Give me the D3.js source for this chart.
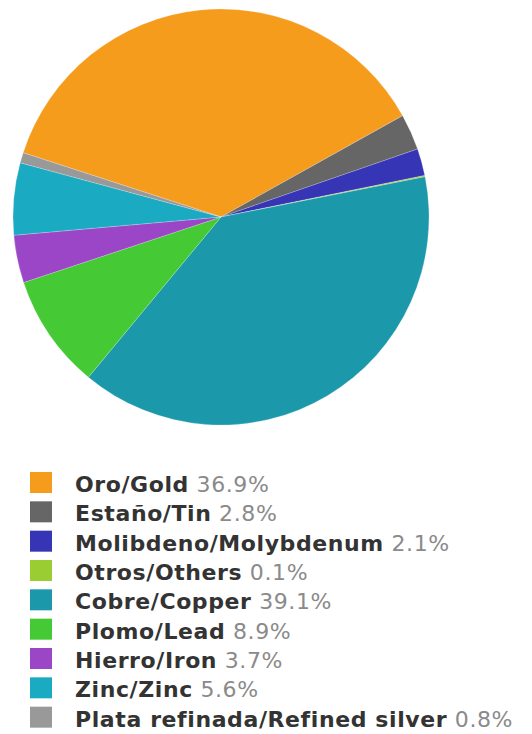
<!DOCTYPE html>
<html lang="en">
<head>
    <meta charset="UTF-8">
    <title>Mineral exports</title>
    <script src="https://d3js.org/d3.v7.min.js"></script>
    <style>
        body { margin: 0; background: #fff; }
    </style>
</head>
<body>
<script>
    // data
    names = ["Oro/Gold", "Estaño/Tin", "Molibdeno/Molybdenum", "Otros/Others", "Cobre/Copper",
             "Plomo/Lead", "Hierro/Iron", "Zinc/Zinc", "Plata refinada/Refined silver"]
    shares = [36.9, 2.8, 2.1, 0.1, 39.1, 8.9, 3.7, 5.6, 0.8]
    colors = ["#f59c1d", "#666666", "#3535b5", "#9acd32", "#1b98aa",
              "#45c934", "#9a46c6", "#1aaac2", "#999999"]

    data = names.map((n, i) => ({name: n, value: shares[i], color: colors[i]}))

    w = 532
    h = 734
    cx = 221
    cy = 217
    r = 208

    svg = d3.select("body")
        .append("svg")
        .attr("width", w)
        .attr("height", h)

    //pie, gold starts a bit left of top
    pie = d3.pie()
        .sort(null)
        .value((d) => d.value)
        .startAngle(-72 * Math.PI / 180)
        .endAngle(288 * Math.PI / 180)

    arc = d3.arc()
        .innerRadius(0)
        .outerRadius(r)

    g = svg.append("g")
        .attr("transform", "translate(" + cx + "," + cy + ")")

    g.selectAll("path.slice")
        .data(pie(data))
        .enter()
        .append("path")
        .attr("class", "slice")
        .attr("d", arc)
        .attr("fill", (d) => d.data.color)
        .attr("stroke", "rgba(255,255,255,0.35)")
        .attr("stroke-width", 0.6)

    //legend
    legendY = d3.scaleBand()
        .domain(names)
        .range([468, 732])

    legend = svg.selectAll("g.legend")
        .data(data)
        .enter()
        .append("g")
        .attr("class", "legend")
        .attr("transform", (d) => "translate(30," + legendY(d.name) + ")")

    legend.append("rect")
        .attr("x", 0)
        .attr("y", 4)
        .attr("width", 22)
        .attr("height", 21)
        .attr("fill", (d) => d.color)

    t = legend.append("text")
        .attr("x", 45)
        .attr("y", 24)
        .style("font-family", "'DejaVu Sans', Verdana, sans-serif")
        .style("font-size", "22px")
        .style("letter-spacing", "0.6px")

    t.append("tspan")
        .attr("font-weight", "bold")
        .attr("fill", "#333")
        .text((d) => d.name)

    t.append("tspan")
        .attr("fill", "#8a8a8a")
        .text((d) => " " + d.value.toFixed(1) + "%")
</script>
</body>
</html>
